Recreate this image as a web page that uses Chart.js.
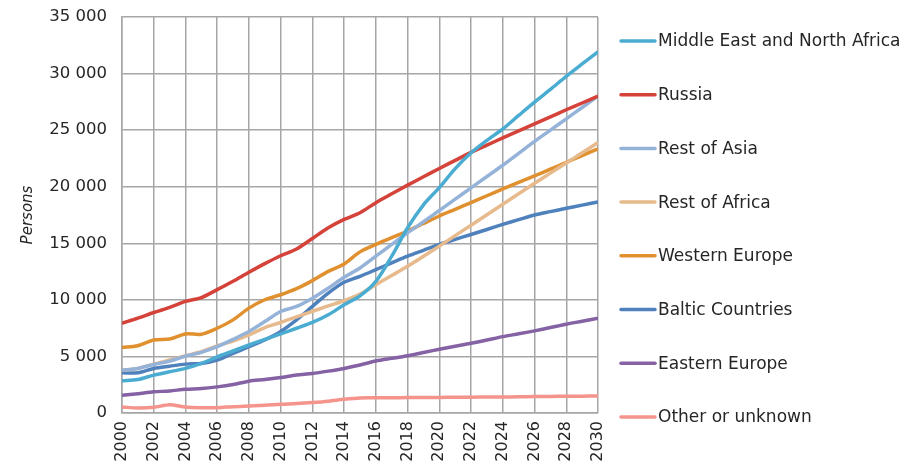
<!DOCTYPE html>
<html>
<head>
<meta charset="utf-8">
<script src="https://cdn.jsdelivr.net/npm/chart.js@4"></script>
<style>
  html, body { margin: 0; padding: 0; background: #fff; }
  #wrap { width: 917px; height: 466px; position: relative; }
</style>
</head>
<body>
<div id="wrap"><canvas id="migrationChart"></canvas></div>
<script>
const years = [2000, 2001, 2002, 2003, 2004, 2005, 2006, 2007, 2008, 2009, 2010,
               2011, 2012, 2013, 2014, 2015, 2016, 2017, 2018, 2019, 2020,
               2021, 2022, 2023, 2024, 2025, 2026, 2027, 2028, 2029, 2030];

const middleEast = [2840, 2960, 3350, 3640, 3940, 4380, 4970, 5480, 6010, 6510, 6990,
                    7490, 8000, 8680, 9570, 10360, 11640, 13860, 16370, 18400, 19920,
                    21600, 23000, 24100, 25110, 26300, 27480, 28600, 29760, 30850, 31920];
const russia = [7930, 8380, 8880, 9330, 9860, 10200, 10900, 11640, 12440, 13200, 13900,
                14500, 15430, 16370, 17110, 17700, 18590, 19370, 20140, 20880, 21610,
                22330, 23040, 23680, 24310, 24930, 25550, 26170, 26800, 27400, 28010];
const restAsia = [3790, 3940, 4290, 4590, 5030, 5360, 5860, 6510, 7200, 8080, 8970,
                  9420, 10150, 11040, 11990, 12820, 13860, 14900, 15930, 16900, 17900,
                  18900, 19900, 20900, 21900, 22950, 24000, 25000, 26000, 27000, 28010];
const restAfrica = [3790, 3940, 4320, 4680, 5060, 5420, 5930, 6360, 6900, 7550, 8000,
                    8500, 8980, 9470, 9920, 10510, 11340, 12150, 12970, 13850, 14750,
                    15680, 16600, 17520, 18450, 19380, 20300, 21200, 22100, 23000, 23900];
const westernEurope = [5800, 5950, 6450, 6540, 6990, 6960, 7490, 8230, 9270, 10010, 10450,
                       10990, 11700, 12520, 13170, 14240, 14900, 15500, 16080, 16750, 17410,
                       18000, 18600, 19200, 19800, 20380, 20950, 21550, 22150, 22750, 23350];
const baltic = [3550, 3550, 3940, 4140, 4320, 4380, 4680, 5270, 5860, 6450, 7200,
                8230, 9420, 10600, 11550, 12080, 12670, 13270, 13860, 14380, 14900,
                15340, 15780, 16220, 16670, 17090, 17500, 17800, 18090, 18370, 18650];
const easternEurope = [1570, 1710, 1870, 1950, 2100, 2160, 2310, 2520, 2810, 2960, 3140,
                       3350, 3490, 3700, 3940, 4240, 4590, 4830, 5060, 5350, 5630,
                       5900, 6160, 6450, 6750, 7000, 7260, 7550, 7850, 8110, 8380];
const otherUnknown = [530, 440, 500, 740, 530, 470, 470, 560, 620, 680, 770,
                      830, 920, 1040, 1210, 1330, 1340, 1350, 1360, 1370, 1380,
                      1390, 1400, 1410, 1420, 1430, 1450, 1460, 1480, 1490, 1510];

const seriesNames = ["Middle East and North Africa", "Russia", "Rest of Asia", "Rest of Africa",
                     "Western Europe", "Baltic Countries", "Eastern Europe", "Other or unknown"];
const seriesData = [middleEast, russia, restAsia, restAfrica, westernEurope, baltic, easternEurope, otherUnknown];
const colors = ["#4BACD2", "#D4423A", "#95B3D9", "#E6BA8C", "#E0902E", "#4F81BD", "#8462A4", "#F4948C"];

const yTicks = [0, 5000, 10000, 15000, 20000, 25000, 30000, 35000];

const fmt = v => String(v).replace(/\B(?=(\d{3})+(?!\d))/g, " ");

// legend drawn on the right, one line + label per series
const sideLegend = {
    id: "sideLegend",
    afterDraw(chart) {
        const c = chart.ctx;
        c.save();
        c.font = "17px 'DejaVu Sans'";
        c.textBaseline = "middle";
        chart.data.datasets.forEach((ds, i) => {
            const y = 41 + i * 53.7;
            c.strokeStyle = ds.borderColor;
            c.lineWidth = 3.5;
            c.lineCap = "round";
            c.beginPath();
            c.moveTo(621, y);
            c.lineTo(655, y);
            c.stroke();
            c.fillStyle = "#262626";
            c.fillText(ds.label, 658, y + 1);
        });
        c.restore();
    }
};

const ctx = document.getElementById("migrationChart");
new Chart(ctx, {
    type: "line",
    data: {
        datasets: seriesData.map((vals, i) => ({
            label: seriesNames[i],
            data: vals.map((v, j) => ({ x: years[j], y: v })),
            borderColor: colors[i],
            backgroundColor: colors[i],
            borderWidth: 3.5,
            pointRadius: 0,
            tension: 0.3,
            fill: false
        }))
    },
    options: {
        responsive: true,
        maintainAspectRatio: false,
        animation: false,
        layout: { padding: { top: 17, right: 319, bottom: 0, left: 0 } },
        plugins: { legend: { display: false }, tooltip: { enabled: false } },
        scales: {
            x: {
                type: "linear",
                min: 2000,
                max: 2030,
                afterFit: s => { s.height = 53; s.paddingLeft = 0; s.paddingRight = 0; },
                grid: { color: "#A6A6A6", lineWidth: 1.5, drawTicks: false },
                border: { color: "#A6A6A6", width: 1.5 },
                ticks: {
                    stepSize: 2,
                    autoSkip: false,
                    maxRotation: 90,
                    minRotation: 90,
                    padding: 8,
                    color: "#262626",
                    font: { family: "'DejaVu Sans'", size: 16 },
                    callback: v => String(v)
                }
            },
            y: {
                min: 0,
                max: 35000,
                afterFit: s => { s.width = 122; s.paddingTop = 0; s.paddingBottom = 0; },
                afterBuildTicks: s => { s.ticks = yTicks.map(v => ({ value: v })); },
                grid: { color: "#A6A6A6", lineWidth: 1.5, drawTicks: false },
                border: { color: "#A6A6A6", width: 1.5 },
                title: {
                    display: true,
                    text: "Persons",
                    color: "#262626",
                    font: { family: "'DejaVu Sans'", size: 15, style: "italic" },
                    padding: { top: 19, bottom: 0 }
                },
                ticks: {
                    padding: 15,
                    color: "#262626",
                    font: { family: "'DejaVu Sans'", size: 16.5 },
                    callback: v => fmt(v)
                }
            }
        }
    },
    plugins: [sideLegend]
});
</script>
</body>
</html>
